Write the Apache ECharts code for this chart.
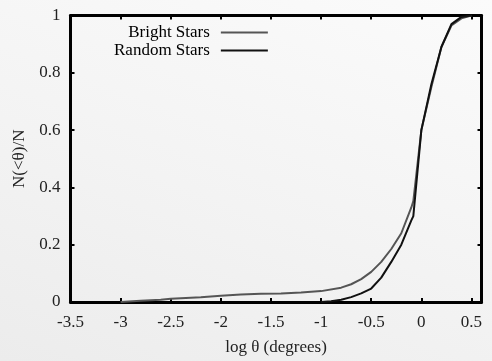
<!DOCTYPE html>
<html>
<head>
<meta charset="utf-8">
<script src="https://cdn.jsdelivr.net/npm/echarts@6/dist/echarts.min.js"></script>
<style>
html,body{margin:0;padding:0;}
#c{width:492px;height:361px;background:linear-gradient(200deg,#fbfbfb 0%,#f3f3f3 55%,#ececec 100%);}
</style>
</head>
<body>
<div id="c"></div>
<script>
const brightX = [-3.0,-2.8,-2.6,-2.5,-2.4,-2.2,-2.0,-1.8,-1.6,-1.4,-1.2,-1.0,-0.8,-0.7,-0.6,-0.5,-0.4,-0.3,-0.2,-0.1,-0.08,0.0,0.1,0.2,0.3,0.4,0.5];
const brightY = [0.0,0.004,0.008,0.011,0.013,0.017,0.022,0.026,0.029,0.030,0.033,0.038,0.050,0.062,0.080,0.105,0.140,0.185,0.240,0.330,0.352,0.600,0.750,0.890,0.965,0.990,1.0];
const randomX = [-1.0,-0.9,-0.8,-0.7,-0.6,-0.5,-0.4,-0.3,-0.2,-0.1,-0.08,0.0,0.1,0.2,0.3,0.4,0.5];
const randomY = [0.0,0.003,0.008,0.017,0.030,0.047,0.085,0.140,0.200,0.285,0.300,0.600,0.760,0.890,0.970,0.995,1.0];
const seriesNames = ['Bright Stars','Random Stars'];
const xName = 'log θ (degrees)';
const yName = 'N(<θ)/N';

const font = 'Liberation Serif';
const chart = echarts.init(document.getElementById('c'), null, {renderer:'canvas'});
const axisLine = {show:true, onZero:false, lineStyle:{color:'#000', width:3}};
const axisTick = {show:true, inside:true, length:4, lineStyle:{color:'#000', width:2}};
chart.setOption({
  animation:false,
  backgroundColor:'transparent',
  grid:{left:70.5, top:15.5, width:411, height:288},
  legend:{
    orient:'vertical', align:'right', left:109, top:19,
    icon:'rect', itemWidth:47, itemHeight:2, itemGap:1,
    textStyle:{fontFamily:font, fontSize:17, color:'#000', padding:[0,6,0,0], lineHeight:17},
    data:seriesNames
  },
  xAxis:[
    {type:'value', min:-3.5, max:0.6, interval:0.5, position:'bottom',
     name:xName, nameLocation:'middle', nameGap:37,
     nameTextStyle:{fontFamily:font, fontSize:17, color:'#222'},
     axisLine, axisTick, splitLine:{show:false},
     axisLabel:{fontFamily:font, fontSize:17, color:'#222', margin:12, showMaxLabel:false}},
    {type:'value', min:-3.5, max:0.6, interval:0.5, position:'top',
     axisLine, axisTick, splitLine:{show:false}, axisLabel:{show:false}}
  ],
  yAxis:[
    {type:'value', min:0, max:1, interval:0.2, position:'left',
     name:yName, nameLocation:'middle', nameGap:38,
     nameTextStyle:{fontFamily:font, fontSize:17, color:'#222'},
     axisLine, axisTick, splitLine:{show:false},
     axisLabel:{fontFamily:font, fontSize:17, color:'#222', margin:10}},
    {type:'value', min:0, max:1, interval:0.2, position:'right',
     axisLine, axisTick, splitLine:{show:false}, axisLabel:{show:false}}
  ],
  series:[
    {name:seriesNames[0], type:'line', symbol:'none', smooth:false,
     lineStyle:{color:'#555', width:2}, itemStyle:{color:'#555'},
     data:brightX.map((x,i)=>[x,brightY[i]])},
    {name:seriesNames[1], type:'line', symbol:'none', smooth:false,
     lineStyle:{color:'#111', width:2}, itemStyle:{color:'#111'},
     data:randomX.map((x,i)=>[x,randomY[i]])}
  ]
});
</script>
</body>
</html>
